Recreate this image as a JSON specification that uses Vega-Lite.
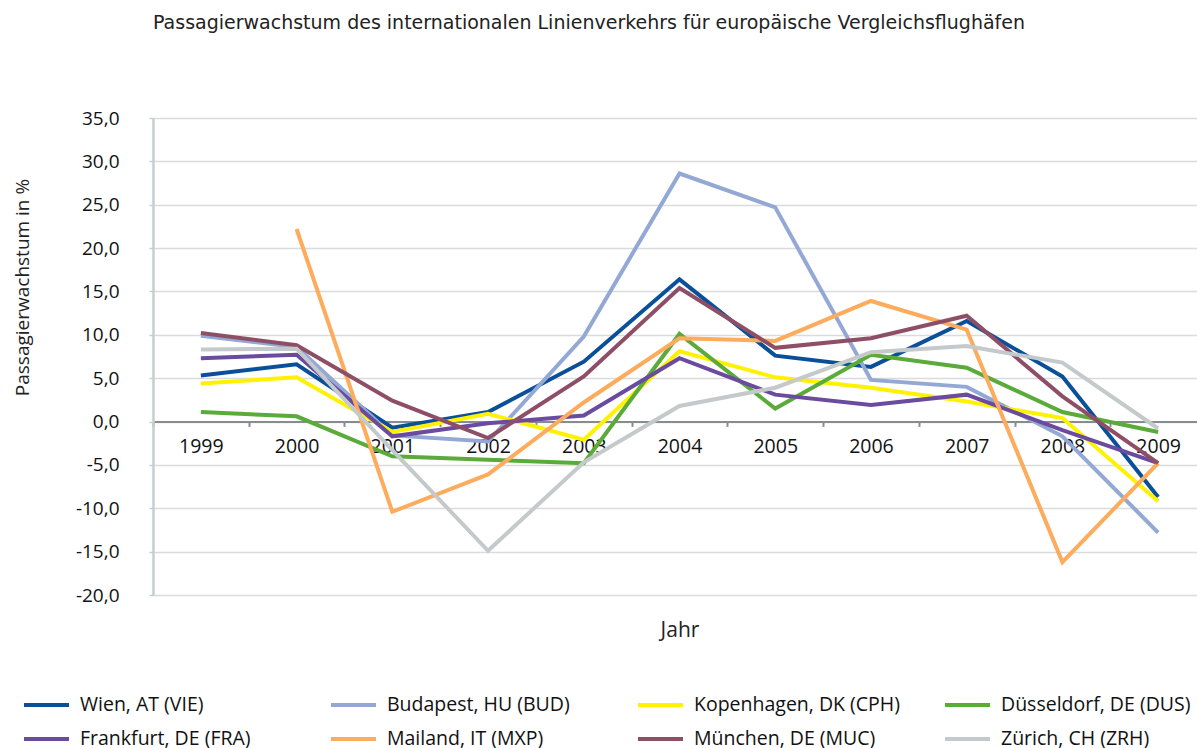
{
  "$schema": "https://vega.github.io/schema/vega-lite/v6.json",
  "autosize": "none",
  "width": 1044,
  "height": 477,
  "padding": {"left": 153, "top": 118, "right": 0, "bottom": 153},
  "background": "white",
  "title": {
    "text": "Passagierwachstum des internationalen Linienverkehrs für europäische Vergleichsflughäfen",
    "anchor": "start",
    "frame": "group",
    "font": "DejaVu Sans",
    "fontSize": 19,
    "fontWeight": "normal",
    "color": "#222222",
    "offset": 76
  },
  "data": {
    "values": [
      {"Jahr": "1999", "city": "Wien, AT (VIE)", "v": 5.3},
      {"Jahr": "2000", "city": "Wien, AT (VIE)", "v": 6.6},
      {"Jahr": "2001", "city": "Wien, AT (VIE)", "v": -0.7},
      {"Jahr": "2002", "city": "Wien, AT (VIE)", "v": 1.1},
      {"Jahr": "2003", "city": "Wien, AT (VIE)", "v": 6.9},
      {"Jahr": "2004", "city": "Wien, AT (VIE)", "v": 16.4},
      {"Jahr": "2005", "city": "Wien, AT (VIE)", "v": 7.6},
      {"Jahr": "2006", "city": "Wien, AT (VIE)", "v": 6.3},
      {"Jahr": "2007", "city": "Wien, AT (VIE)", "v": 11.6},
      {"Jahr": "2008", "city": "Wien, AT (VIE)", "v": 5.2},
      {"Jahr": "2009", "city": "Wien, AT (VIE)", "v": -8.7},
      {"Jahr": "1999", "city": "Budapest, HU (BUD)", "v": 9.9},
      {"Jahr": "2000", "city": "Budapest, HU (BUD)", "v": 8.6},
      {"Jahr": "2001", "city": "Budapest, HU (BUD)", "v": -1.6},
      {"Jahr": "2002", "city": "Budapest, HU (BUD)", "v": -2.3},
      {"Jahr": "2003", "city": "Budapest, HU (BUD)", "v": 9.8},
      {"Jahr": "2004", "city": "Budapest, HU (BUD)", "v": 28.6},
      {"Jahr": "2005", "city": "Budapest, HU (BUD)", "v": 24.7},
      {"Jahr": "2006", "city": "Budapest, HU (BUD)", "v": 4.8},
      {"Jahr": "2007", "city": "Budapest, HU (BUD)", "v": 4.0},
      {"Jahr": "2008", "city": "Budapest, HU (BUD)", "v": -1.7},
      {"Jahr": "2009", "city": "Budapest, HU (BUD)", "v": -12.8},
      {"Jahr": "1999", "city": "Kopenhagen, DK (CPH)", "v": 4.4},
      {"Jahr": "2000", "city": "Kopenhagen, DK (CPH)", "v": 5.1},
      {"Jahr": "2001", "city": "Kopenhagen, DK (CPH)", "v": -1.2},
      {"Jahr": "2002", "city": "Kopenhagen, DK (CPH)", "v": 0.9},
      {"Jahr": "2003", "city": "Kopenhagen, DK (CPH)", "v": -2.1},
      {"Jahr": "2004", "city": "Kopenhagen, DK (CPH)", "v": 8.1},
      {"Jahr": "2005", "city": "Kopenhagen, DK (CPH)", "v": 5.1},
      {"Jahr": "2006", "city": "Kopenhagen, DK (CPH)", "v": 3.9},
      {"Jahr": "2007", "city": "Kopenhagen, DK (CPH)", "v": 2.3},
      {"Jahr": "2008", "city": "Kopenhagen, DK (CPH)", "v": 0.4},
      {"Jahr": "2009", "city": "Kopenhagen, DK (CPH)", "v": -9.2},
      {"Jahr": "1999", "city": "Düsseldorf, DE (DUS)", "v": 1.1},
      {"Jahr": "2000", "city": "Düsseldorf, DE (DUS)", "v": 0.6},
      {"Jahr": "2001", "city": "Düsseldorf, DE (DUS)", "v": -4.0},
      {"Jahr": "2002", "city": "Düsseldorf, DE (DUS)", "v": -4.4},
      {"Jahr": "2003", "city": "Düsseldorf, DE (DUS)", "v": -4.8},
      {"Jahr": "2004", "city": "Düsseldorf, DE (DUS)", "v": 10.1},
      {"Jahr": "2005", "city": "Düsseldorf, DE (DUS)", "v": 1.5},
      {"Jahr": "2006", "city": "Düsseldorf, DE (DUS)", "v": 7.7},
      {"Jahr": "2007", "city": "Düsseldorf, DE (DUS)", "v": 6.2},
      {"Jahr": "2008", "city": "Düsseldorf, DE (DUS)", "v": 1.1},
      {"Jahr": "2009", "city": "Düsseldorf, DE (DUS)", "v": -1.2},
      {"Jahr": "1999", "city": "Frankfurt, DE (FRA)", "v": 7.3},
      {"Jahr": "2000", "city": "Frankfurt, DE (FRA)", "v": 7.7},
      {"Jahr": "2001", "city": "Frankfurt, DE (FRA)", "v": -1.7},
      {"Jahr": "2002", "city": "Frankfurt, DE (FRA)", "v": -0.2},
      {"Jahr": "2003", "city": "Frankfurt, DE (FRA)", "v": 0.7},
      {"Jahr": "2004", "city": "Frankfurt, DE (FRA)", "v": 7.3},
      {"Jahr": "2005", "city": "Frankfurt, DE (FRA)", "v": 3.1},
      {"Jahr": "2006", "city": "Frankfurt, DE (FRA)", "v": 1.9},
      {"Jahr": "2007", "city": "Frankfurt, DE (FRA)", "v": 3.1},
      {"Jahr": "2008", "city": "Frankfurt, DE (FRA)", "v": -1.0},
      {"Jahr": "2009", "city": "Frankfurt, DE (FRA)", "v": -4.8},
      {"Jahr": "2000", "city": "Mailand, IT (MXP)", "v": 22.2},
      {"Jahr": "2001", "city": "Mailand, IT (MXP)", "v": -10.4},
      {"Jahr": "2002", "city": "Mailand, IT (MXP)", "v": -6.1},
      {"Jahr": "2003", "city": "Mailand, IT (MXP)", "v": 2.2},
      {"Jahr": "2004", "city": "Mailand, IT (MXP)", "v": 9.6},
      {"Jahr": "2005", "city": "Mailand, IT (MXP)", "v": 9.3},
      {"Jahr": "2006", "city": "Mailand, IT (MXP)", "v": 13.9},
      {"Jahr": "2007", "city": "Mailand, IT (MXP)", "v": 10.6},
      {"Jahr": "2008", "city": "Mailand, IT (MXP)", "v": -16.2},
      {"Jahr": "2009", "city": "Mailand, IT (MXP)", "v": -4.8},
      {"Jahr": "1999", "city": "München, DE (MUC)", "v": 10.2},
      {"Jahr": "2000", "city": "München, DE (MUC)", "v": 8.8},
      {"Jahr": "2001", "city": "München, DE (MUC)", "v": 2.4},
      {"Jahr": "2002", "city": "München, DE (MUC)", "v": -1.9},
      {"Jahr": "2003", "city": "München, DE (MUC)", "v": 5.2},
      {"Jahr": "2004", "city": "München, DE (MUC)", "v": 15.4},
      {"Jahr": "2005", "city": "München, DE (MUC)", "v": 8.5},
      {"Jahr": "2006", "city": "München, DE (MUC)", "v": 9.6},
      {"Jahr": "2007", "city": "München, DE (MUC)", "v": 12.2},
      {"Jahr": "2008", "city": "München, DE (MUC)", "v": 2.9},
      {"Jahr": "2009", "city": "München, DE (MUC)", "v": -4.8},
      {"Jahr": "1999", "city": "Zürich, CH (ZRH)", "v": 8.3},
      {"Jahr": "2000", "city": "Zürich, CH (ZRH)", "v": 8.4},
      {"Jahr": "2001", "city": "Zürich, CH (ZRH)", "v": -3.3},
      {"Jahr": "2002", "city": "Zürich, CH (ZRH)", "v": -14.9},
      {"Jahr": "2003", "city": "Zürich, CH (ZRH)", "v": -4.7},
      {"Jahr": "2004", "city": "Zürich, CH (ZRH)", "v": 1.8},
      {"Jahr": "2005", "city": "Zürich, CH (ZRH)", "v": 3.9},
      {"Jahr": "2006", "city": "Zürich, CH (ZRH)", "v": 8.0},
      {"Jahr": "2007", "city": "Zürich, CH (ZRH)", "v": 8.7},
      {"Jahr": "2008", "city": "Zürich, CH (ZRH)", "v": 6.8},
      {"Jahr": "2009", "city": "Zürich, CH (ZRH)", "v": -0.8}
    ]
  },
  "mark": {"type": "line", "strokeWidth": 4, "strokeJoin": "miter", "strokeCap": "butt"},
  "encoding": {
    "x": {
      "field": "Jahr",
      "type": "ordinal",
      "scale": {"type": "band", "paddingInner": 0, "paddingOuter": 0, "range": [0, 1053]},
      "axis": {
        "title": "Jahr",
        "titleFont": "Open Sans",
        "titleFontSize": 21,
        "titleFontWeight": "normal",
        "titleColor": "#222222",
        "titleY": 209,
        "titleBaseline": "middle",
        "labelAngle": 0,
        "labelFont": "Open Sans",
        "labelFontSize": 19.5,
        "labelColor": "#111111",
        "labelPadding": 11,
        "tickBand": "extent",
        "tickSize": 5,
        "tickWidth": 2,
        "tickColor": "#878c90",
        "domainColor": "#878c90",
        "domainWidth": 2,
        "grid": false,
        "offset": -173.6
      }
    },
    "y": {
      "field": "v",
      "type": "quantitative",
      "scale": {"domain": [-20, 35], "nice": false, "zero": false},
      "axis": {
        "values": [-20, -15, -10, -5, 0, 5, 10, 15, 20, 25, 30, 35],
        "labelExpr": "replace(replace(format(datum.value, '.1f'), '.', ','), '−', '-')",
        "title": "Passagierwachstum in %",
        "titleFont": "Open Sans",
        "titleFontSize": 19,
        "titleFontWeight": "normal",
        "titleColor": "#222222",
        "titleX": -131,
        "titleY": 169,
        "titleAngle": -90,
        "titleBaseline": "middle",
        "titleAlign": "center",
        "labelFont": "Open Sans",
        "labelFontSize": 19,
        "labelColor": "#111111",
        "labelPadding": 30,
        "tickSize": 4,
        "tickWidth": 1.5,
        "tickColor": "#c8cdd0",
        "domainColor": "#c8cdd0",
        "domainWidth": 2.5,
        "grid": true,
        "gridColor": "#d9dcdf",
        "gridWidth": 1.5
      }
    },
    "color": {
      "field": "city",
      "type": "nominal",
      "sort": null,
      "scale": {
        "domain": ["Wien, AT (VIE)", "Budapest, HU (BUD)", "Kopenhagen, DK (CPH)", "Düsseldorf, DE (DUS)", "Frankfurt, DE (FRA)", "Mailand, IT (MXP)", "München, DE (MUC)", "Zürich, CH (ZRH)"],
        "range": ["#0a4f9a", "#93a8d5", "#fff200", "#5aab3a", "#6a4b9f", "#fdab5c", "#8e4f66", "#c4c9cb"]
      },
      "legend": {
        "title": null,
        "orient": "none",
        "legendX": -121,
        "legendY": 572.5,
        "direction": "horizontal",
        "columns": 4,
        "gridAlign": "all",
        "columnPadding": 37,
        "rowPadding": 10,
        "symbolType": "M-1.8,0H1.8",
        "symbolSize": 625,
        "symbolStrokeWidth": 4,
        "symbolFillColor": "transparent",
        "labelFont": "Open Sans",
        "labelFontSize": 19.5,
        "labelColor": "#111111",
        "labelOffset": 19,
        "labelLimit": 300
      }
    }
  },
  "config": {"view": {"stroke": null}}
}
